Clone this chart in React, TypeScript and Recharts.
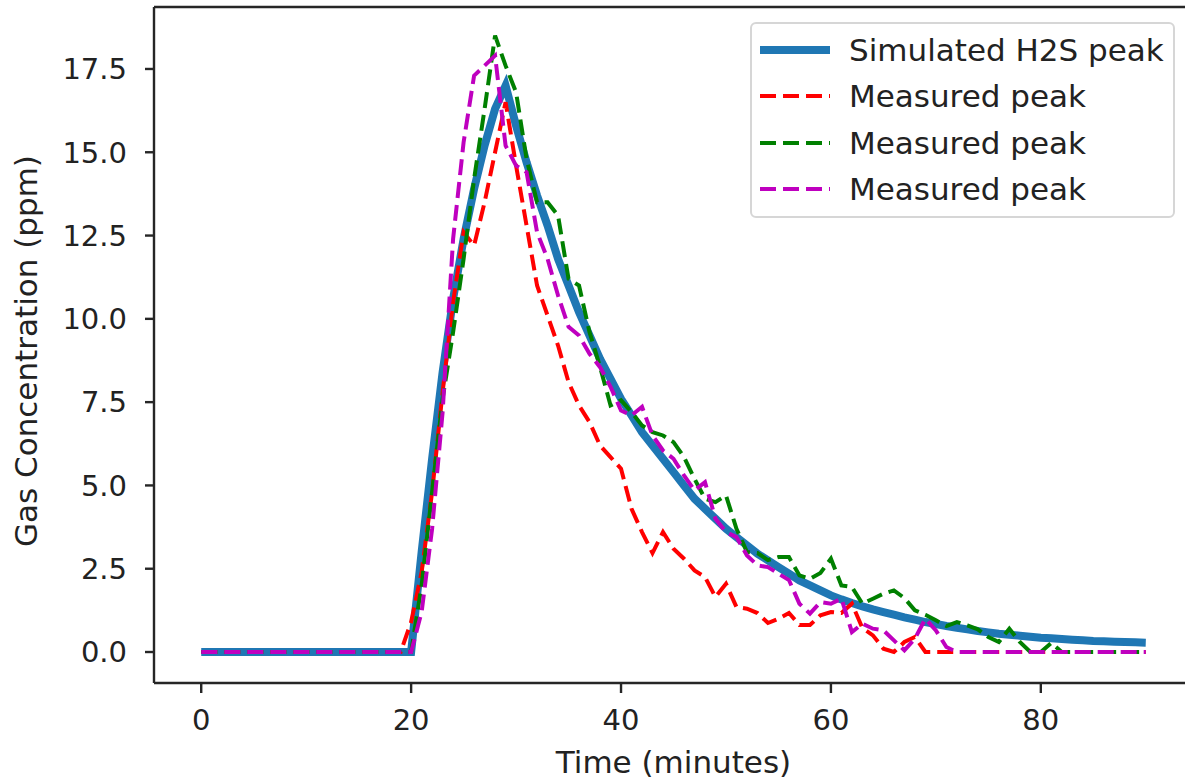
import React from 'react'
import { LineChart, Line, XAxis, YAxis, ReferenceLine, Label } from 'recharts'

// minutes 0..90, one reading per minute
const minutes: number[] = Array.from({ length: 91 }, (_, i) => i)

const zeros20 = [0, 0, 0, 0, 0, 0, 0, 0, 0, 0, 0, 0, 0, 0, 0, 0, 0, 0, 0, 0]

const simulated: number[] = [
  ...zeros20,
  0, 3.0, 5.8, 8.4, 10.6, 12.4, 13.9, 15.2, 16.3, 17.0,
  15.8, 14.7, 13.7, 12.8, 11.8, 11.0, 10.2, 9.5, 8.8, 8.2,
  7.6, 7.1, 6.6, 6.2, 5.8, 5.4, 5.0, 4.6, 4.3, 4.0,
  3.7, 3.45, 3.2, 2.95, 2.75, 2.55, 2.35, 2.15, 2.0, 1.85,
  1.7, 1.58, 1.47, 1.37, 1.28, 1.2, 1.12, 1.04, 0.97, 0.9,
  0.84, 0.78, 0.73, 0.68, 0.63, 0.59, 0.55, 0.52, 0.49, 0.46,
  0.43, 0.41, 0.39, 0.37, 0.35, 0.33, 0.32, 0.31, 0.3, 0.29,
  0.28,
]

const measuredRed: number[] = [
  ...zeros20,
  0.9, 2.4, 4.8, 7.8, 10.5, 12.6, 12.2, 13.5, 15.0, 16.5,
  14.6, 12.8, 11.0, 10.1, 9.2, 8.1, 7.4, 6.9, 6.2, 5.85,
  5.5, 4.3, 3.6, 2.97, 3.6, 3.1, 2.8, 2.45, 2.25, 1.65,
  2.05, 1.35, 1.3, 1.17, 0.87, 1.0, 1.17, 0.81, 0.81, 1.1,
  1.2, 1.17, 1.45, 0.72, 0.5, 0.1, 0, 0.3, 0.45, 0,
  0, 0, 0, 0, 0, 0, 0, 0, 0, 0,
  0, 0, 0, 0, 0, 0, 0, 0, 0, 0,
  0,
]

const measuredGreen: number[] = [
  ...zeros20,
  0, 2.0, 4.8, 7.6, 9.6, 11.8, 14.2, 16.3, 18.5, 17.6,
  16.8, 14.8, 13.5, 13.5, 13.1, 11.2, 11.0, 9.6, 8.56, 7.4,
  7.56, 7.2, 6.8, 6.6, 6.5, 6.3, 5.85, 5.2, 4.6, 4.5,
  4.7, 3.7, 3.0, 2.97, 2.76, 2.85, 2.85, 2.3, 2.2, 2.37,
  2.8, 2.0, 1.95, 1.45, 1.6, 1.75, 1.85, 1.62, 1.25, 1.12,
  0.95, 0.78, 0.9, 0.8, 0.68, 0.45, 0.3, 0.7, 0.3, 0,
  0, 0.27, 0, 0, 0, 0, 0, 0, 0, 0,
  0,
]

const measuredMagenta: number[] = [
  ...zeros20,
  0, 1.2, 3.7, 7.2, 12.4, 15.3, 17.3, 17.6, 17.9, 15.2,
  14.6, 14.4, 12.6, 11.8, 10.7, 9.76, 9.5, 8.95, 8.55, 7.96,
  7.25, 7.1, 7.36, 6.5, 6.05, 5.8, 5.3, 4.85, 5.1, 4.0,
  3.6, 3.45, 2.9, 2.6, 2.55, 2.35, 2.16, 1.45, 1.15, 1.5,
  1.45, 1.6, 0.6, 0.85, 0.7, 0.65, 0.35, 0.05, 0.4, 1.0,
  0.65, 0.15, 0, 0, 0, 0, 0, 0, 0, 0,
  0, 0, 0, 0, 0, 0, 0, 0, 0, 0,
  0,
]

const xTicks = [0, 20, 40, 60, 80]
const yTicks = [0, 2.5, 5, 7.5, 10, 12.5, 15, 17.5]
const X_MIN = -4.5
const X_MAX = 94.5
const Y_MIN = -0.93
const Y_MAX = 19.36

const series = [
  { key: 'sim', name: 'Simulated H2S peak', color: '#1f77b4', width: 8, dash: undefined as string | undefined },
  { key: 'red', name: 'Measured peak', color: '#ff0000', width: 4, dash: '16 7' },
  { key: 'green', name: 'Measured peak', color: '#008000', width: 4, dash: '16 7' },
  { key: 'magenta', name: 'Measured peak', color: '#bf00bf', width: 4, dash: '16 7' },
]

const data = minutes.map((t, i) => ({
  t,
  sim: simulated[i],
  red: measuredRed[i],
  green: measuredGreen[i],
  magenta: measuredMagenta[i],
}))

const FONT = '"DejaVu Sans", sans-serif'
const INK = '#222'
const SPINE = '#262626'

const YTitle = (props: any) => {
  const vb = props.viewBox
  const cx = vb.x + 37
  const cy = vb.y + vb.height / 2 + 6
  return (
    <text x={cx} y={cy} transform={`rotate(-90 ${cx} ${cy})`} textAnchor="middle"
      fontSize={31} fontFamily={FONT} fill={INK}>
      Gas Concentration (ppm)
    </text>
  )
}

const XTitle = (props: any) => {
  const vb = props.viewBox
  return (
    <text x={vb.x + vb.width / 2} y={773} textAnchor="middle" fontSize={31} fontFamily={FONT} fill={INK}>
      Time (minutes)
    </text>
  )
}

export default function App() {
  return (
    <div style={{ position: 'fixed', left: 0, top: 0, width: 1185, height: 780, overflow: 'hidden', background: '#fff' }}>
      <LineChart width={1200} height={780} data={data} margin={{ top: 7, right: 7, left: 0, bottom: 0 }}>
        <XAxis
          dataKey="t"
          type="number"
          domain={[X_MIN, X_MAX]}
          ticks={xTicks}
          interval={0}
          allowDataOverflow
          height={97}
          tickSize={10}
          tickMargin={16}
          axisLine={{ stroke: SPINE, strokeWidth: 2.4 }}
          tickLine={{ stroke: SPINE, strokeWidth: 2.4 }}
          tick={{ fill: INK, fontSize: 29, fontFamily: FONT }}
        >
          <Label content={XTitle} />
        </XAxis>
        <YAxis
          type="number"
          domain={[Y_MIN, Y_MAX]}
          ticks={yTicks}
          interval={0}
          allowDataOverflow
          width={154}
          tickSize={9}
          tickMargin={18}
          tickFormatter={(v: number) => v.toFixed(1)}
          axisLine={{ stroke: SPINE, strokeWidth: 2.4 }}
          tickLine={{ stroke: SPINE, strokeWidth: 2.4 }}
          tick={{ fill: INK, fontSize: 29, fontFamily: FONT }}
        >
          <Label content={YTitle} />
        </YAxis>
        <ReferenceLine y={Y_MAX} stroke={SPINE} strokeWidth={2.4} />
        <ReferenceLine x={X_MAX} stroke={SPINE} strokeWidth={2.4} />
        {series.map((s) => (
          <Line
            key={s.key}
            dataKey={s.key}
            name={s.name}
            type="linear"
            stroke={s.color}
            strokeWidth={s.width}
            strokeDasharray={s.dash}
            dot={false}
            activeDot={false}
            isAnimationActive={false}
          />
        ))}
      </LineChart>
      <div style={{
        position: 'absolute', left: 750, top: 22, width: 425, height: 196, boxSizing: 'border-box',
        border: '2px solid #d6d6d6', borderRadius: 6, background: 'rgba(255,255,255,0.8)',
        fontFamily: FONT, fontSize: 31, color: INK,
      }}>
        {series.map((s, i) => (
          <div key={s.key} style={{ position: 'absolute', left: 0, top: 26 + i * 46.3 - 23, height: 46, width: '100%' }}>
            <svg width={80} height={46} style={{ position: 'absolute', left: 0, top: 0 }}>
              <line x1={8} x2={78} y1={23} y2={23} stroke={s.color} strokeWidth={s.width}
                strokeDasharray={s.dash} />
            </svg>
            <span style={{ position: 'absolute', left: 97, top: 0, lineHeight: '46px', whiteSpace: 'nowrap' }}>{s.name}</span>
          </div>
        ))}
      </div>
    </div>
  )
}
